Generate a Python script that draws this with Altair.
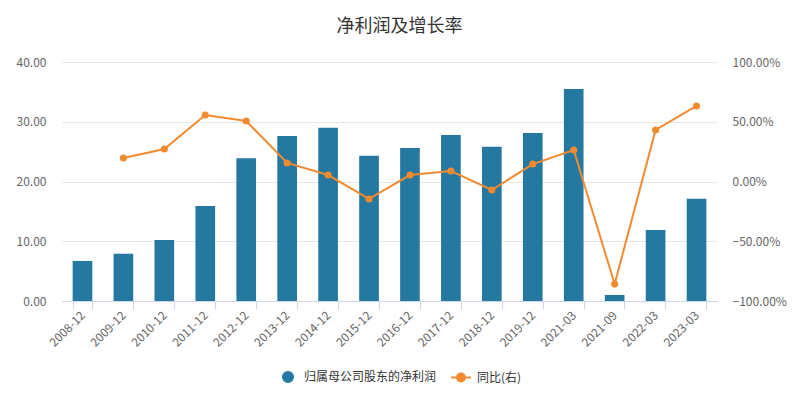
import altair as alt
import pandas as pd

categories = ["2008-12", "2009-12", "2010-12", "2011-12", "2012-12", "2013-12",
              "2014-12", "2015-12", "2016-12", "2017-12", "2018-12", "2019-12",
              "2021-03", "2021-09", "2022-03", "2023-03"]
profit = [6.7, 7.9, 10.2, 15.9, 23.9, 27.6, 29.0, 24.3, 25.6, 27.8, 25.8, 28.1,
          35.5, 1.0, 11.9, 17.1]
growth = [None, 19.7, 27.2, 55.6, 50.6, 15.5, 5.4, -14.6, 5.4, 8.8, -7.1, 14.6,
          26.4, -85.8, 43.1, 63.2]
series_names = ["归属母公司股东的净利润", "同比(右)"]
left_ticks = [0, 10, 20, 30, 40]
right_ticks = [-100, -50, 0, 50, 100]

BAR_COLOR = "#25789f"
LINE_COLOR = "#f28b30"
FONT = "Noto Sans CJK SC"

df = pd.DataFrame({"date": categories, "profit": profit, "growth": growth})
df_line = df.dropna(subset=["growth"])
df_leg = pd.DataFrame({"series": series_names, "date": [categories[0]] * 2, "v": [0, 0]})

x_enc = alt.X(
    "date:N", sort=categories, title=None,
    scale=alt.Scale(paddingInner=0.52, paddingOuter=0.26),
    axis=alt.Axis(labelAngle=-45, labelAlign="right", labelBaseline="middle",
                  tickBand="extent", tickSize=8, domainColor="#ccd6eb",
                  tickColor="#ccd6eb", labelColor="#666666", labelFontSize=12,
                  labelPadding=4, grid=False),
)

bars = alt.Chart(df).mark_bar(color=BAR_COLOR).encode(
    x=x_enc,
    y=alt.Y("profit:Q", title=None,
            scale=alt.Scale(domain=[0, 40], nice=False),
            axis=alt.Axis(values=left_ticks, format=".2f", grid=True,
                          gridColor="#e6e6e6", domain=False, ticks=False,
                          labelPadding=16, labelColor="#666666", labelFontSize=12)),
)

line_base = alt.Chart(df_line).encode(
    x=alt.X("date:N", sort=categories),
    y=alt.Y("growth:Q", title=None,
            scale=alt.Scale(domain=[-100, 100], nice=False),
            axis=alt.Axis(orient="right", values=right_ticks,
                          labelExpr="format(datum.value, '.2f') + '%'",
                          grid=False, domain=False, ticks=False, labelPadding=15,
                          labelColor="#666666", labelFontSize=12)),
)
line = line_base.mark_line(color=LINE_COLOR, strokeWidth=2)
pts = line_base.mark_point(color=LINE_COLOR, filled=True, size=50, opacity=1)
line_layer = alt.layer(line, pts)

legend_path = "M-2,0L2,0M0.8,0A0.8,0.8,0,1,1,-0.8,0A0.8,0.8,0,1,1,0.8,0Z"
leg_props = dict(title=None, orient="none", legendX=220, legendY=309,
                 direction="horizontal", symbolOpacity=1, symbolStrokeWidth=2,
                 labelFontSize=12, labelColor="#333333",
                 columnPadding=10, labelOffset=10)
color_scale = alt.Scale(domain=series_names, range=[BAR_COLOR, LINE_COLOR])
leg = alt.Chart(df_leg).mark_point(opacity=0, size=100, strokeWidth=2).encode(
    x=alt.X("date:N", sort=categories),
    y=alt.Y("v:Q", axis=None),
    fill=alt.Fill("series:N", sort=series_names, scale=color_scale,
                  legend=alt.Legend(**leg_props)),
    stroke=alt.Stroke("series:N", sort=series_names, scale=color_scale,
                      legend=alt.Legend(**leg_props)),
    shape=alt.Shape("series:N", sort=series_names,
                    scale=alt.Scale(domain=series_names, range=["circle", legend_path]),
                    legend=alt.Legend(**leg_props)),
)

chart = alt.layer(bars, line_layer, leg).resolve_scale(y="independent").properties(
    width=655, height=239,
    autosize=alt.AutoSizeParams(type="none"),
    padding={"left": 54, "top": 54, "right": 73, "bottom": 84},
    title=alt.TitleParams("净利润及增长率", fontSize=18, fontWeight="normal",
                          color="#333333", anchor="middle", dx=10, offset=20),
).configure(font=FONT).configure_view(stroke=None)

chart.save("out.html", embed_options={"renderer": "svg", "actions": False})
